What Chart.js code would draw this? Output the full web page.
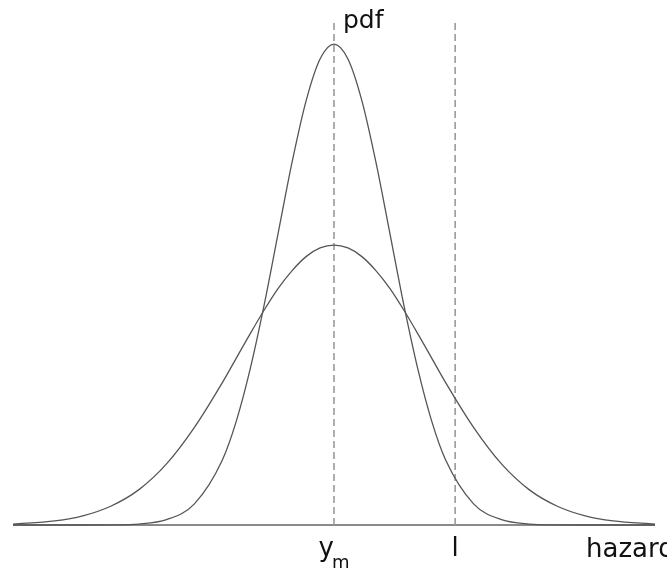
<!DOCTYPE html>
<html>
<head>
<meta charset="utf-8">
<script src="https://cdn.jsdelivr.net/npm/chart.js@4/dist/chart.umd.min.js"></script>
<style>
  html, body { margin: 0; padding: 0; background: #ffffff; }
  #wrap { width: 667px; height: 570px; position: relative; }
</style>
</head>
<body>
<div id="wrap"><canvas id="pdfChart"></canvas></div>
<script>
// --- DATA ---
const xValues = [-5.75, -5, -4.5, -4, -3.5, -3, -2.5, -2, -1.75, -1.5, -1.25, -1, -0.75, -0.5, -0.25, 0,
                 0.25, 0.5, 0.75, 1, 1.25, 1.5, 1.75, 2, 2.5, 3, 3.5, 4, 4.5, 5, 5.75];
const narrowPdf = [0, 0, 0, 0.0003, 0.002, 0.011, 0.044, 0.135, 0.216, 0.325, 0.458, 0.607, 0.755, 0.882, 0.969, 1.0,
                   0.969, 0.882, 0.755, 0.607, 0.458, 0.325, 0.216, 0.135, 0.044, 0.011, 0.002, 0.0003, 0, 0, 0];
const widePdf = [0.002, 0.0085, 0.019, 0.039, 0.073, 0.127, 0.203, 0.296, 0.347, 0.398, 0.447, 0.492, 0.529, 0.558, 0.576, 0.582,
                 0.576, 0.558, 0.529, 0.492, 0.447, 0.398, 0.347, 0.296, 0.203, 0.127, 0.073, 0.039, 0.019, 0.0085, 0.002];
const yMode = 0;        // y_m
const limitX = 2.17;    // l
const xMin = -5.75;
const xMax = 5.75;
const yTop = 1.05;

const toPoints = (xs, ys) => xs.map((x, i) => ({ x: x, y: ys[i] }));

// --- LABELS DRAWN ON THE CANVAS ---
const labelPlugin = {
    id: 'labels',
    afterDraw(chart) {
        const ctx = chart.ctx;
        const xs = chart.scales.x;
        const ys = chart.scales.y;
        const base = ys.getPixelForValue(0);
        ctx.save();
        ctx.fillStyle = '#111111';
        ctx.textBaseline = 'alphabetic';

        ctx.font = '25px "DejaVu Sans"';
        ctx.textAlign = 'left';
        ctx.fillText('pdf', xs.getPixelForValue(yMode) + 9, 28);

        ctx.font = '26px "DejaVu Sans"';
        ctx.textAlign = 'right';
        ctx.fillText('y', xs.getPixelForValue(yMode), base + 31);
        ctx.font = '18px "DejaVu Sans"';
        ctx.textAlign = 'left';
        ctx.fillText('m', xs.getPixelForValue(yMode) - 2, base + 43);

        ctx.font = '26px "DejaVu Sans"';
        ctx.textAlign = 'center';
        ctx.fillText('l', xs.getPixelForValue(limitX), base + 31);

        ctx.textAlign = 'left';
        ctx.fillText('hazard', 586, base + 32);
        ctx.restore();
    }
};

const ctx = document.getElementById('pdfChart').getContext('2d');
new Chart(ctx, {
    type: 'line',
    data: {
        datasets: [
            {
                label: 'narrow',
                data: toPoints(xValues, narrowPdf),
                borderColor: '#555555',
                borderWidth: 1.3,
                pointRadius: 0,
                cubicInterpolationMode: 'monotone',
                clip: false,
                order: 1
            },
            {
                label: 'wide',
                data: toPoints(xValues, widePdf),
                borderColor: '#555555',
                borderWidth: 1.3,
                pointRadius: 0,
                cubicInterpolationMode: 'monotone',
                clip: false,
                order: 1
            },
            {
                label: 'y_m',
                data: [{ x: yMode, y: 0 }, { x: yMode, y: yTop }],
                borderColor: '#9a9a9a',
                borderWidth: 1.6,
                borderDash: [7, 4],
                pointRadius: 0,
                clip: false,
                order: 2
            },
            {
                label: 'l',
                data: [{ x: limitX, y: 0 }, { x: limitX, y: yTop }],
                borderColor: '#9a9a9a',
                borderWidth: 1.6,
                borderDash: [7, 4],
                pointRadius: 0,
                clip: false,
                order: 2
            },
            {
                label: 'axis',
                data: [{ x: xMin, y: 0 }, { x: xMax, y: 0 }],
                borderColor: '#8a8a8a',
                borderWidth: 2,
                pointRadius: 0,
                clip: false,
                order: 3
            }
        ]
    },
    options: {
        responsive: true,
        maintainAspectRatio: false,
        animation: false,
        layout: { padding: { left: 13, right: 12, top: 20, bottom: 45 } },
        plugins: {
            legend: { display: false },
            tooltip: { enabled: false }
        },
        scales: {
            x: { type: 'linear', min: xMin, max: xMax, display: false },
            y: { min: 0, max: yTop, display: false }
        }
    },
    plugins: [labelPlugin]
});
</script>
</body>
</html>
